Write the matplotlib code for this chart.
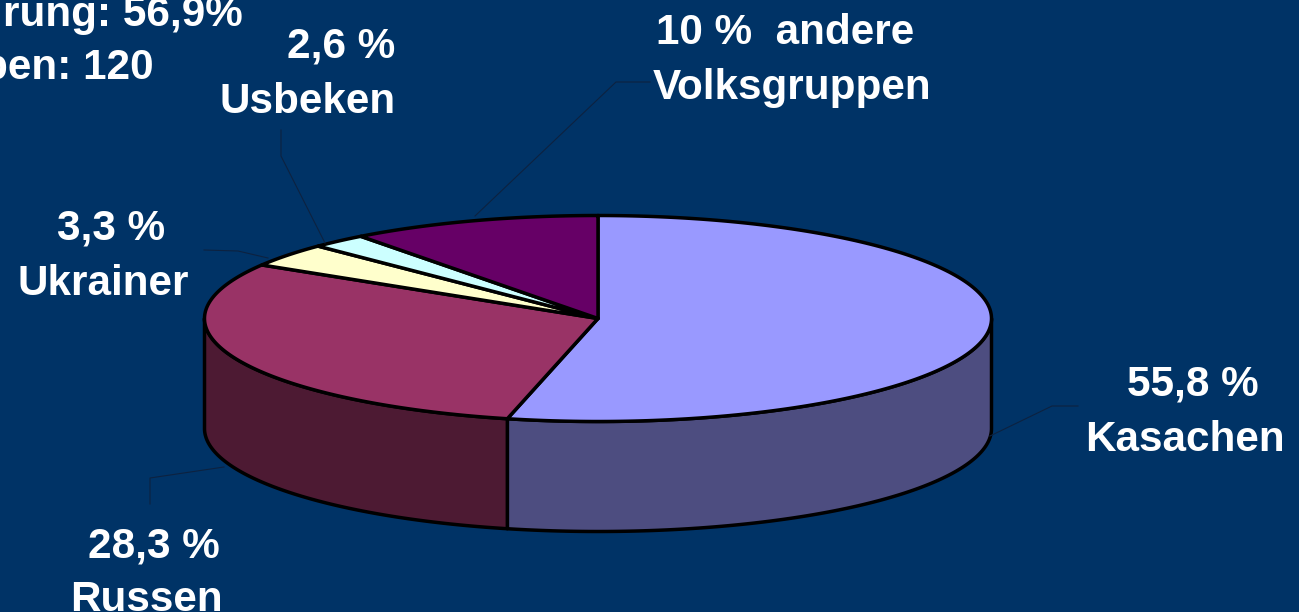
import numpy as np
import matplotlib
matplotlib.use('Agg')
import matplotlib.pyplot as plt
from matplotlib.patches import Polygon

# share of the circle as drawn in the picture (perspective shifts the front edge)
names = ['Kasachen', 'Russen', 'Ukrainer', 'Usbeken', 'andere']
shares = [53.7, 30.0, 3.7, 2.3, 10.3]
top_colors = ['#9999FF', '#993366', '#FFFFCC', '#CCFFFF', '#660066']
side_colors = ['#4D4D80', '#4D1A33', '#808066', '#668080', '#330033']

bg = '#003366'
cx, cy, rx, ry, depth = 598, 318.5, 393.5, 103, 110


def rim(a, b):
    # angles clockwise from 12 o'clock
    t = np.radians(np.linspace(a, b, 200))
    return cx + rx * np.sin(t), cy - ry * np.cos(t)


fig = plt.figure(figsize=(12.99, 6.12), dpi=100, facecolor=bg)
ax = fig.add_axes([0, 0, 1, 1])
ax.set_xlim(0, 1299)
ax.set_ylim(612, 0)
ax.axis('off')

edges = np.cumsum([0] + shares) * 3.6

# sides
for i in range(len(shares)):
    a, b = edges[i], edges[i + 1]
    a2, b2 = max(a, 90), min(b, 270)
    if a2 < b2:
        x, y = rim(a2, b2)
        pts = np.r_[np.c_[x, y], np.c_[x[::-1], y[::-1] + depth]]
        ax.add_patch(Polygon(pts, fc=side_colors[i], ec='black', lw=2.5, joinstyle='round'))

# top
for i in range(len(shares)):
    x, y = rim(edges[i], edges[i + 1])
    pts = np.r_[[[cx, cy]], np.c_[x, y]]
    ax.add_patch(Polygon(pts, fc=top_colors[i], ec='black', lw=2.5, joinstyle='round'))

# leader lines
leaders = [
    ([990, 1052, 1078], [436, 406, 406]),
    ([224, 150, 150], [467, 478, 504]),
    ([204, 238, 268], [250, 251, 258]),
    ([281, 281, 325], [130, 156, 243]),
    ([475, 616, 650], [216, 82, 82]),
]
for lx, ly in leaders:
    ax.plot(lx, ly, color='#0D2240', lw=0.8)

font = ['Liberation Sans', 'DejaVu Sans']
labels = [
    (1193, 385, '55,8 %'), (1185, 440, 'Kasachen'),
    (154, 546, '28,3 %'), (146, 600, 'Russen'),
    (111, 229, '3,3 %'), (103, 284, 'Ukrainer'),
    (341, 47, '2,6 %'), (308, 102, 'Usbeken'),
    (785, 33, '10 %  andere'), (792, 88, 'Volksgruppen'),
    (123, 15, 'rung: 56,9%'), (68, 68, 'pen: 120'),
]
for x, y, s in labels:
    ax.text(x, y, s, color='white', fontsize=30.4, fontweight='bold', family=font,
            ha='center', va='center')

fig.savefig('out.png', dpi=100, facecolor=bg)
